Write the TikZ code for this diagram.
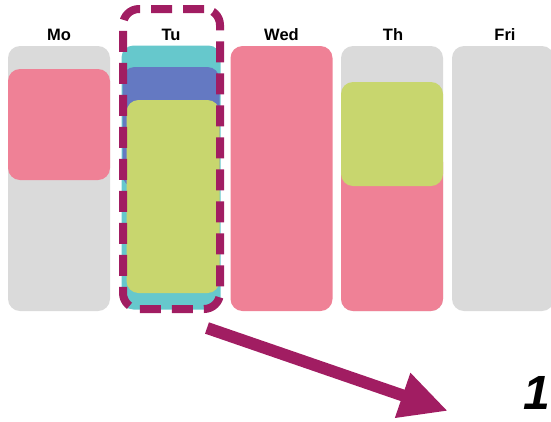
\documentclass[tikz,border=0pt]{standalone}
\usepackage{fontspec}
\setmainfont{Liberation Sans}
\usetikzlibrary{arrows.meta, positioning}
\definecolor{slotgray}{HTML}{DADADA}
\definecolor{slotpink}{HTML}{EF8196}
\definecolor{slotteal}{HTML}{66C8CC}
\definecolor{slotblue}{HTML}{6479C2}
\definecolor{slotgreen}{HTML}{C8D66E}
\definecolor{markpurple}{HTML}{A11D62}
\tikzset{
    slot/.style={rectangle, rounded corners=12pt, inner sep=0pt, draw=none, minimum width=102pt},
    daylabel/.style={font=\bfseries\fontsize{16.5}{18}\selectfont, inner sep=0pt, anchor=base},
    selframe/.style={rectangle, rounded corners=16pt, inner sep=0pt, draw=markpurple, line width=8pt, dash pattern=on 21pt off 11pt},
    bigarrow/.style={draw=markpurple, line width=12pt, -{Triangle[length=48pt, width=44pt]}}
}

\begin{document}
\begin{tikzpicture}[x=1pt, y=-1pt]
    \useasboundingbox (0,0) rectangle (551,421);

    % day columns
    \node (mo) [slot, fill=slotgray, minimum height=265pt] at (59,178.5) {};
    \node (tu) [slot, fill=slotteal, minimum width=99pt, minimum height=264pt] at (171,177.5) {};
    \node (we) [slot, fill=slotpink, minimum height=265pt] at (281.5,178.5) {};
    \node (th) [slot, fill=slotgray, minimum height=265pt] at (392,178.5) {};
    \node (fr) [slot, fill=slotgray, minimum height=265pt] at (503,178.5) {};

    % appointments
    \node (mopink) [slot, fill=slotpink, minimum height=111pt] at (59,124.5) {};
    \node (tublue) [slot, fill=slotblue, minimum width=97pt, minimum height=120pt] at (171,127) {};
    \node (tugreen) [slot, fill=slotgreen, minimum width=93pt, minimum height=193pt] at (173,196.5) {};
    \node (thpink) [slot, fill=slotpink, minimum height=161pt] at (392,230.5) {};
    \node (thgreen) [slot, fill=slotgreen, minimum height=104pt] at (392,134) {};

    % day names
    \node [daylabel] at (59,40) {Mo};
    \node [daylabel] at (171,40) {Tu};
    \node [daylabel] at (281.5,40) {Wed};
    \node [daylabel] at (393,40) {Th};
    \node [daylabel] at (505,40) {Fri};

    % selected day
    \node (tusel) [selframe, minimum width=97pt, minimum height=300pt] at (171.5,159) {};

    \coordinate (arrstart) at (207,328);
    \coordinate (arrend) at (448,411);
    \draw [bigarrow] (arrstart) -- (arrend);

    \node (count) [font=\bfseries\itshape\fontsize{48}{50}\selectfont, inner sep=0pt, anchor=base west] at (523,409) {1};
\end{tikzpicture}
\end{document}
